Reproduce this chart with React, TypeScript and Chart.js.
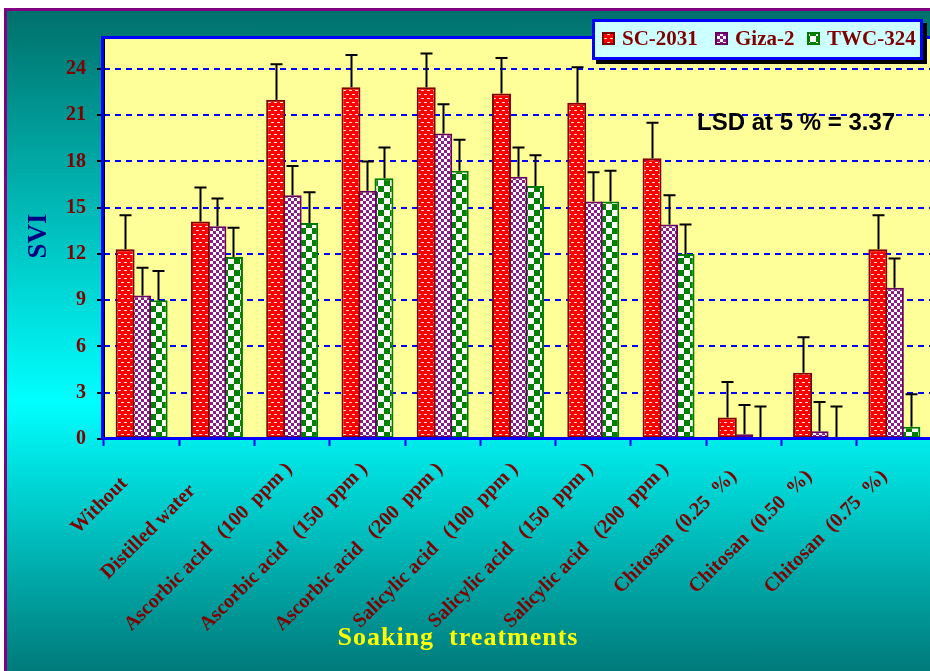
import React, { useEffect, useRef } from 'react';
import { Chart, registerables } from 'chart.js';

Chart.register(...registerables);

const categories = [
  'Without    ',
  'Distilled water      ',
  'Ascorbic acid   (100  ppm )',
  'Ascorbic acid   (150  ppm )',
  'Ascorbic acid   (200  ppm )',
  'Salicylic acid   (100  ppm )',
  'Salicylic acid   (150  ppm )',
  'Salicylic acid   (200  ppm )',
  'Chitosan  (0.25  %)  ',
  'Chitosan  (0.50  %)  ',
  'Chitosan  (0.75  %)  ',
];

const seriesNames = ['SC-2031', 'Giza-2', 'TWC-324'];

const sc2031 = [12.3, 14.1, 22.0, 22.8, 22.8, 22.4, 21.8, 18.2, 1.4, 4.3, 12.3];
const sc2031Err = [2.2, 2.2, 2.3, 2.1, 2.2, 2.3, 2.3, 2.3, 2.3, 2.3, 2.2];

const giza2 = [9.3, 13.8, 15.8, 16.1, 19.8, 17.0, 15.4, 13.9, 0.3, 0.5, 9.8];
const giza2Err = [1.8, 1.8, 1.9, 1.9, 1.9, 1.9, 1.9, 1.9, 1.9, 1.9, 1.9];

const twc324 = [9.0, 11.8, 14.0, 16.9, 17.4, 16.4, 15.4, 12.0, 0, 0, 0.8];
const twc324Err = [1.9, 1.9, 2.0, 2.0, 2.0, 2.0, 2.0, 1.9, 2.1, 2.1, 2.1];

const yTicks = [0, 3, 6, 9, 12, 15, 18, 21, 24];

const yTitle = 'SVI';
const xTitle = 'Soaking  treatments';
const lsdText = 'LSD at 5 % = 3.37';

const SERIF = '"Liberation Serif", "Times New Roman", serif';
const SANS = '"Liberation Sans", Arial, sans-serif';

function makeTile(w: number, h: number, draw: (c: CanvasRenderingContext2D) => void) {
  const cv = document.createElement('canvas');
  cv.width = w;
  cv.height = h;
  const c = cv.getContext('2d')!;
  draw(c);
  return cv;
}

export default function App() {
  const ref = useRef<HTMLCanvasElement>(null);

  useEffect(() => {
    const canvas = ref.current!;
    const ctx0 = canvas.getContext('2d')!;

    const redTile = makeTile(6, 8, (c) => {
      c.fillStyle = '#ff0000';
      c.fillRect(0, 0, 6, 8);
      c.fillStyle = '#ffc8c8';
      c.fillRect(1, 2, 3, 1);
      c.fillRect(4, 6, 2, 1);
      c.fillRect(0, 6, 1, 1);
      c.fillStyle = '#ffffff';
      c.fillRect(2, 2, 1, 1);
      c.fillRect(5, 6, 1, 1);
    });
    const purpleTile = makeTile(6, 6, (c) => {
      c.fillStyle = '#ffffff';
      c.fillRect(0, 0, 6, 6);
      c.fillStyle = '#8a1a8a';
      c.fillRect(0, 0, 3, 3);
      c.fillRect(3, 3, 3, 3);
    });
    const greenTile = makeTile(12, 12, (c) => {
      c.fillStyle = '#ffffff';
      c.fillRect(0, 0, 12, 12);
      c.fillStyle = '#008000';
      c.fillRect(0, 0, 6, 6);
      c.fillRect(6, 6, 6, 6);
    });
    const redPat = ctx0.createPattern(redTile, 'repeat')!;
    const purplePat = ctx0.createPattern(purpleTile, 'repeat')!;
    const greenPat = ctx0.createPattern(greenTile, 'repeat')!;

    const fills = [redPat, purplePat, greenPat];
    const borders = ['#800000', '#660066', '#007a00'];
    const values = [sc2031, giza2, twc324];
    const errors = [sc2031Err, giza2Err, twc324Err];

    const overlay = {
      id: 'overlay',
      beforeDraw(chart: any) {
        const { ctx, chartArea: a } = chart;
        ctx.save();
        ctx.fillStyle = '#FFFF99';
        ctx.fillRect(a.left, a.top, a.right - a.left, a.bottom - a.top);
        ctx.restore();
      },
      afterDatasetsDraw(chart: any) {
        const { ctx } = chart;
        const ys = chart.scales.y;
        ctx.save();
        ctx.strokeStyle = '#000000';
        ctx.lineWidth = 2;
        for (let d = 0; d < 3; d++) {
          const meta = chart.getDatasetMeta(d);
          meta.data.forEach((el: any, i: number) => {
            const x = Math.round(el.x) + 0.5;
            const yTop = ys.getPixelForValue(values[d][i] + errors[d][i]);
            const yBase = el.y;
            ctx.beginPath();
            ctx.moveTo(x, yBase);
            ctx.lineTo(x, yTop);
            ctx.moveTo(x - 6, yTop);
            ctx.lineTo(x + 6, yTop);
            ctx.stroke();
          });
        }
        ctx.restore();
      },
      afterDraw(chart: any) {
        const { ctx, chartArea: a } = chart;
        ctx.save();
        // plot border
        ctx.fillStyle = '#0000ff';
        ctx.fillRect(a.left - 3, a.top - 2, a.right - a.left + 3, 3);
        ctx.fillRect(a.left - 3, a.top - 2, 3, a.bottom - a.top + 3);
        ctx.fillRect(a.left - 3, a.bottom - 2, a.right - a.left + 3, 3);
        ctx.fillStyle = '#000000';
        ctx.fillRect(a.left, a.top + 1, 1, a.bottom - a.top - 2);

        // legend
        ctx.fillStyle = '#000000';
        ctx.fillRect(596, 23, 331, 41);
        ctx.fillStyle = '#CCFFFF';
        ctx.fillRect(592, 19, 331, 41);
        ctx.strokeStyle = '#0000ff';
        ctx.lineWidth = 3;
        ctx.strokeRect(593.5, 20.5, 328, 38);
        const sw = [602, 715, 807];
        const tx = [622, 735, 827];
        ctx.font = `bold 21px ${SERIF}`;
        ctx.textBaseline = 'middle';
        ctx.textAlign = 'left';
        for (let d = 0; d < 3; d++) {
          ctx.fillStyle = fills[d];
          ctx.fillRect(sw[d], 32, 13, 13);
          ctx.strokeStyle = borders[d];
          ctx.lineWidth = 2;
          ctx.strokeRect(sw[d] + 1, 33, 11, 11);
          ctx.fillStyle = '#800000';
          ctx.fillText(seriesNames[d], tx[d], 40);
        }

        // LSD
        ctx.fillStyle = '#000000';
        ctx.font = `bold 24px ${SANS}`;
        ctx.textAlign = 'left';
        ctx.textBaseline = 'middle';
        ctx.fillText(lsdText, 697, 123);

        // y title
        ctx.save();
        ctx.translate(39, 236);
        ctx.rotate(-Math.PI / 2);
        ctx.font = `bold 27px ${SERIF}`;
        ctx.fillStyle = '#000080';
        ctx.textAlign = 'center';
        ctx.textBaseline = 'middle';
        ctx.fillText(yTitle, 0, 0);
        ctx.restore();

        // x title
        ctx.font = `bold 26px ${SERIF}`;
        (ctx as any).letterSpacing = '1px';
        ctx.fillStyle = '#FFFF00';
        ctx.textAlign = 'center';
        ctx.textBaseline = 'middle';
        ctx.fillText(xTitle, 458, 638);
        (ctx as any).letterSpacing = '0px';
        ctx.restore();
      },
    };

    const chart = new Chart(canvas, {
      type: 'bar',
      data: {
        labels: categories,
        datasets: seriesNames.map((name, d) => ({
          label: name,
          data: values[d],
          backgroundColor: fills[d] as any,
          borderColor: borders[d],
          borderWidth: 2,
          borderSkipped: false,
          categoryPercentage: 0.658,
          barPercentage: 1.15,
        })),
      },
      options: {
        responsive: false,
        animation: false,
        events: [],
        layout: { padding: { top: 38, right: 8, left: 0, bottom: 0 } },
        plugins: {
          legend: { display: false },
          tooltip: { enabled: false },
          title: { display: false },
        },
        scales: {
          x: {
            type: 'category',
            offset: true,
            grid: {
              offset: true,
              drawOnChartArea: false,
              drawTicks: true,
              tickLength: 7,
              tickColor: '#0000ff',
              tickWidth: 2,
            },
            border: { display: false },
            ticks: {
              autoSkip: false,
              minRotation: 45,
              maxRotation: 45,
              padding: 12,
              labelOffset: -3,
              color: '#800000',
              font: { family: SERIF, weight: 'bold', size: 20 },
            },
            afterFit(scale: any) {
              scale.height = 232;
            },
          },
          y: {
            min: 0,
            max: 26,
            afterBuildTicks(scale: any) {
              scale.ticks = yTicks.map((v) => ({ value: v }));
            },
            grid: {
              color: (c: any) => (c.tick && c.tick.value === 0 ? 'rgba(0,0,0,0)' : '#0000ff'),
              lineWidth: 2,
              tickLength: 7,
              tickColor: '#000000',
              tickWidth: 2,
              tickBorderDash: [],
            },
            border: { display: false, dash: [6, 5] },
            ticks: {
              padding: 11,
              color: '#800000',
              font: { family: SERIF, weight: 'bold', size: 20 },
            },
            afterFit(scale: any) {
              scale.width = 104;
            },
          },
        },
      },
      plugins: [overlay],
    });

    return () => chart.destroy();
  }, []);

  return (
    <div
      style={{
        position: 'absolute',
        left: 0,
        top: 0,
        width: 930,
        height: 671,
        overflow: 'hidden',
        background: '#ffffff',
      }}
    >
      <div
        style={{
          position: 'absolute',
          left: 4,
          top: 8,
          width: 940,
          height: 700,
          border: '3px solid #800080',
          background:
            'linear-gradient(to bottom, #00706b 0px, #00ffff 390px, #007a7a 660px)',
        }}
      />
      <canvas
        ref={ref}
        width={940}
        height={671}
        style={{ position: 'absolute', left: 0, top: 0, width: 940, height: 671 }}
      />
    </div>
  );
}
